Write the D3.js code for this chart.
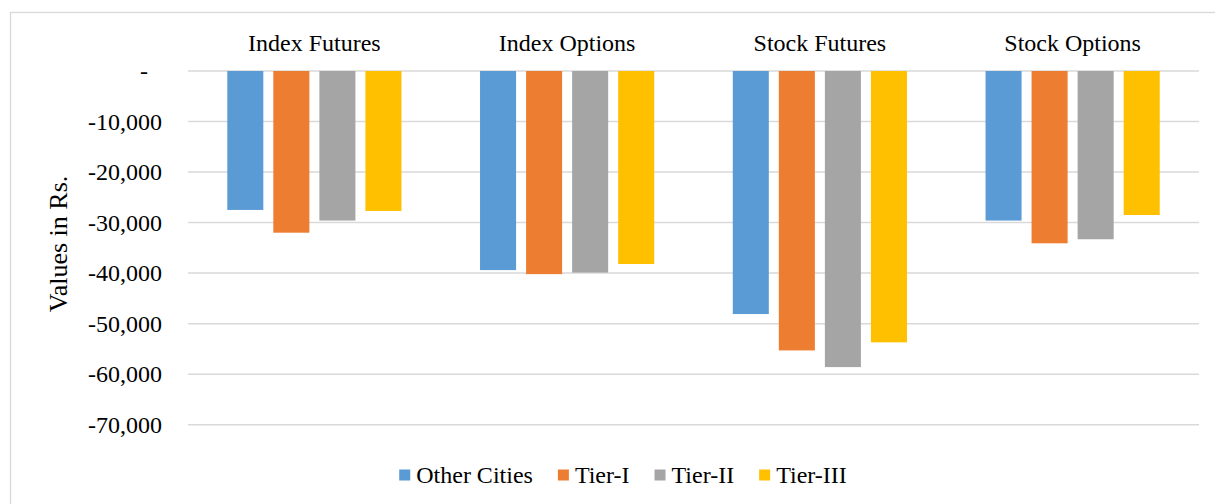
<!DOCTYPE html>
<html>
<head>
<meta charset="utf-8">
<script src="https://cdn.jsdelivr.net/npm/d3@7"></script>
<style>
  html, body { margin: 0; padding: 0; background: #fff; }
  svg { display: block; }
  text { font-family: "Liberation Serif", "Times New Roman", serif; fill: #000; }
</style>
</head>
<body>
<svg id="chart" width="1215" height="504"></svg>
<script>
const categories = ["Index Futures", "Index Options", "Stock Futures", "Stock Options"];
const seriesNames = ["Other Cities", "Tier-I", "Tier-II", "Tier-III"];
const otherCities = [-27500, -39400, -48100, -29600];
const tier1 = [-32000, -40200, -55300, -34100];
const tier2 = [-29600, -39900, -58600, -33300];
const tier3 = [-27700, -38200, -53700, -28500];
const tickValues = [0, -10000, -20000, -30000, -40000, -50000, -60000, -70000];
const tickLabels = ["-", "-10,000", "-20,000", "-30,000", "-40,000", "-50,000", "-60,000", "-70,000"];
const colors = ["#5B9BD5", "#ED7D31", "#A5A5A5", "#FFC000"];
const yTitle = "Values in Rs.";

const seriesValues = [otherCities, tier1, tier2, tier3];

const svg = d3.select("#chart");

// outer chart border
svg.append("rect")
  .attr("x", 10.5).attr("y", 12.5)
  .attr("width", 1215).attr("height", 500)
  .attr("fill", "none").attr("stroke", "#D9D9D9").attr("stroke-width", 1.3);

const plot = { left: 188, right: 1199, top: 71, bottom: 424.7 };

const y = d3.scaleLinear().domain([-70000, 0]).range([plot.bottom, plot.top]);
const x0 = d3.scaleBand().domain(categories).range([plot.left, plot.right]).padding(0);
const x1 = d3.scaleBand().domain(seriesNames).range([0, x0.bandwidth()])
  .paddingInner(10 / 46).paddingOuter(0.853);

// gridlines
svg.append("g").selectAll("line").data(tickValues).join("line")
  .attr("x1", plot.left).attr("x2", plot.right)
  .attr("y1", d => y(d)).attr("y2", d => y(d))
  .attr("stroke", "#D9D9D9").attr("stroke-width", 1.5);

// y axis labels via d3 axis
const yAxis = d3.axisLeft(y).tickValues(tickValues)
  .tickFormat((d, i) => tickLabels[i]).tickSize(0).tickPadding(0);
const yg = svg.append("g").attr("transform", "translate(162,0)").call(yAxis);
yg.select(".domain").remove();
yg.attr("font-family", null).attr("font-size", null);
yg.selectAll("text")
  .style("font-family", '"Liberation Serif", "Times New Roman", serif')
  .style("font-size", "24px").attr("fill", "#000")
  .attr("x", d => d === 0 ? -14 : 0);

// bars
const groups = svg.append("g").selectAll("g").data(categories).join("g")
  .attr("transform", d => `translate(${x0(d)},0)`);
groups.selectAll("rect")
  .data((c, ci) => seriesNames.map((s, si) => ({ s, si, v: seriesValues[si][ci] })))
  .join("rect")
  .attr("x", d => x1(d.s))
  .attr("width", x1.bandwidth())
  .attr("y", d => y(0))
  .attr("height", d => y(d.v) - y(0))
  .attr("fill", d => colors[d.si]);

// category labels on top
svg.append("g").selectAll("text").data(categories).join("text")
  .attr("x", d => x0(d) + x0.bandwidth() / 2)
  .attr("y", 51)
  .attr("text-anchor", "middle")
  .style("font-size", "24px")
  .text(d => d);

// y title
svg.append("text")
  .attr("transform", "translate(67,244) rotate(-90)")
  .attr("text-anchor", "middle")
  .style("font-size", "26px")
  .text(yTitle);

// legend
const legend = svg.append("g");
const items = legend.selectAll("g").data(seriesNames).join("g");
items.append("rect").attr("width", 11).attr("height", 11).attr("y", 469.5)
  .attr("fill", (d, i) => colors[i]);
items.append("text").attr("x", 17).attr("y", 483)
  .style("font-size", "24px").text(d => d);
const widths = [];
items.each(function () {
  const w = 17 + d3.select(this).select("text").node().getComputedTextLength();
  widths.push(w);
});
const gap = 25;
const total = d3.sum(widths) + gap * (widths.length - 1);
let start = 623 - total / 2;
items.attr("transform", (d, i) => {
  const t = `translate(${start},0)`;
  start += widths[i] + gap;
  return t;
});
</script>
</body>
</html>
